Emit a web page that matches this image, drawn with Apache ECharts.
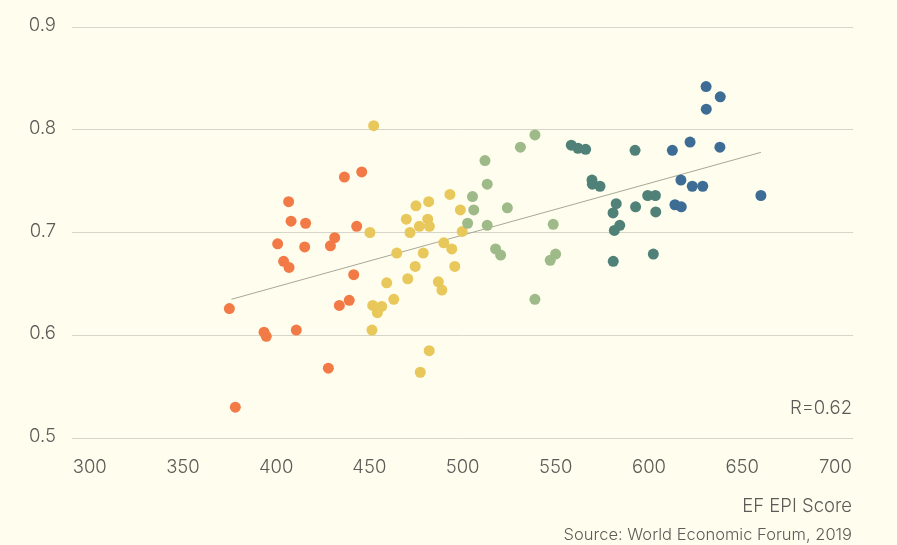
<!DOCTYPE html>
<html>
<head>
<meta charset="utf-8">
<script src="https://cdn.jsdelivr.net/npm/echarts@6.0.0/dist/echarts.min.js"></script>
<style>
  html, body { margin: 0; padding: 0; background: #fffeee; }
  #chart { width: 897px; height: 545px; }
</style>
</head>
<body>
<div id="chart"></div>
<script>
"use strict";

// EF EPI score (x) vs. index value (y), one list per colour band.
const orangePoints = [
  [436.6, 0.754], [445.9, 0.759], [406.7, 0.730], [408.0, 0.711], [415.8, 0.709],
  [443.2, 0.706], [400.8, 0.689], [415.3, 0.686], [431.4, 0.695], [429.1, 0.687],
  [404.0, 0.672], [406.9, 0.666], [441.6, 0.659], [439.2, 0.634], [433.9, 0.629],
  [374.9, 0.626], [393.5, 0.603], [394.7, 0.599], [410.8, 0.605], [428.0, 0.568],
  [378.1, 0.530]
];
const yellowPoints = [
  [452.3, 0.804], [450.3, 0.700], [493.2, 0.737], [481.8, 0.730], [475.0, 0.726],
  [498.8, 0.722], [469.8, 0.713], [481.3, 0.713], [476.8, 0.706], [482.2, 0.706],
  [471.8, 0.700], [499.8, 0.701], [489.9, 0.690], [494.2, 0.684], [464.7, 0.680],
  [478.9, 0.680], [495.8, 0.667], [474.6, 0.667], [459.3, 0.651], [470.6, 0.655],
  [487.0, 0.652], [488.9, 0.644], [463.1, 0.635], [451.8, 0.629], [456.6, 0.628],
  [454.3, 0.622], [451.4, 0.605], [482.1, 0.585], [477.3, 0.564]
];
const greenPoints = [
  [531.0, 0.783], [538.8, 0.795], [512.0, 0.770], [513.2, 0.747], [505.3, 0.735],
  [506.0, 0.722], [524.0, 0.724], [502.7, 0.709], [513.2, 0.707], [517.7, 0.684],
  [520.4, 0.678], [548.6, 0.708], [549.9, 0.679], [547.0, 0.673], [538.8, 0.635]
];
const tealPoints = [
  [558.3, 0.785], [561.9, 0.782], [566.0, 0.781], [569.4, 0.751], [569.6, 0.747],
  [573.7, 0.745], [582.4, 0.728], [580.7, 0.719], [584.3, 0.707], [581.4, 0.702],
  [580.8, 0.672], [592.5, 0.780], [592.8, 0.725], [599.3, 0.736], [603.4, 0.736],
  [603.6, 0.720], [602.3, 0.679]
];
const bluePoints = [
  [630.6, 0.842], [638.2, 0.832], [630.7, 0.820], [612.5, 0.780], [622.0, 0.788],
  [638.0, 0.783], [617.1, 0.751], [623.2, 0.745], [628.8, 0.745], [660.0, 0.736],
  [613.9, 0.727], [617.3, 0.725]
];
const trendLine = [[376, 0.635], [660, 0.778]];
const xTicks = [300, 350, 400, 450, 500, 550, 600, 650, 700];
const yTicks = [0.5, 0.6, 0.7, 0.8, 0.9];
const rLabel = "R=0.62";
const xTitle = "EF EPI Score";
const sourceNote = "Source: World Economic Forum, 2019";

const FONT = "Inter, 'Noto Sans', sans-serif";
const INK = "#5b5b58";
const groups = [
  { data: orangePoints, color: "#f27a47" },
  { data: yellowPoints, color: "#e8c75b" },
  { data: greenPoints,  color: "#9dba88" },
  { data: tealPoints,   color: "#4f8179" },
  { data: bluePoints,   color: "#3d6d95" }
];

const chart = echarts.init(document.getElementById("chart"), null, { renderer: "canvas" });

chart.setOption({
  backgroundColor: "#fffeee",
  animation: false,
  textStyle: { fontFamily: FONT },
  grid: { left: 72, right: 44, top: 27, bottom: 107 },
  xAxis: {
    type: "value",
    min: 290.5,
    max: 709.4,
    axisLine: { show: false },
    axisTick: { show: false },
    splitLine: { show: false },
    axisLabel: {
      customValues: xTicks,
      color: INK, fontSize: 18.5, fontWeight: 300, margin: 20, fontFamily: FONT
    }
  },
  yAxis: {
    type: "value",
    min: yTicks[0],
    max: yTicks[yTicks.length - 1],
    interval: 0.1,
    axisLine: { show: false },
    axisTick: { show: false },
    splitLine: { lineStyle: { color: "#d6d5c9", width: 1 } },
    axisLabel: {
      color: INK, fontSize: 18.5, fontWeight: 300, margin: 16, fontFamily: FONT,
      verticalAlign: "bottom", padding: [0, 0, -8, 0],
      formatter: v => v.toFixed(1)
    }
  },
  series: [
    {
      type: "line",
      data: trendLine,
      symbol: "none",
      silent: true,
      z: 1,
      lineStyle: { color: "#a8a897", width: 1 }
    },
    ...groups.map(g => ({
      type: "scatter",
      data: g.data,
      symbolSize: 11,
      z: 2,
      itemStyle: { color: g.color, opacity: 1 }
    }))
  ],
  graphic: [
    {
      type: "text", right: 45, top: 399,
      style: { text: rLabel, fill: INK, font: "300 18.5px " + FONT, textAlign: "right" }
    },
    {
      type: "text", right: 45, top: 497,
      style: { text: xTitle, fill: INK, font: "300 18.5px " + FONT, textAlign: "right" }
    },
    {
      type: "text", right: 45, top: 527,
      style: { text: sourceNote, fill: INK, font: "300 16.5px " + FONT, textAlign: "right" }
    }
  ]
});
</script>
</body>
</html>
